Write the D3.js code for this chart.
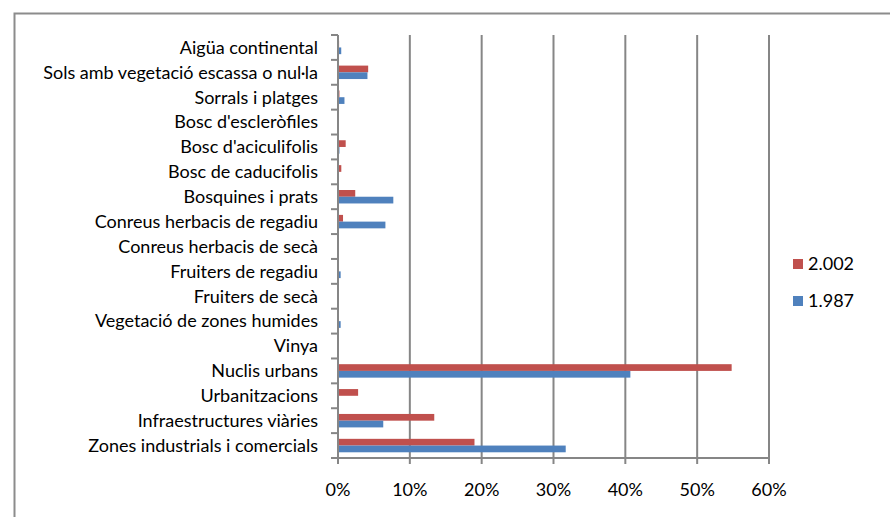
<!DOCTYPE html>
<html>
<head>
<meta charset="utf-8">
<script src="https://cdn.jsdelivr.net/npm/d3@7"></script>
<style>
body { margin: 0; background: #fff; }
svg { display: block; font-family: Lato, "Open Sans", sans-serif; }
</style>
</head>
<body>
<div id="chart"></div>
<script>
// categories, top to bottom as drawn
var categories = [
  "Aigüa continental",
  "Sols amb vegetació escassa o nul·la",
  "Sorrals i platges",
  "Bosc d'escleròfiles",
  "Bosc d'aciculifolis",
  "Bosc de caducifolis",
  "Bosquines i prats",
  "Conreus herbacis de regadiu",
  "Conreus herbacis de secà",
  "Fruiters de regadiu",
  "Fruiters de secà",
  "Vegetació de zones humides",
  "Vinya",
  "Nuclis urbans",
  "Urbanitzacions",
  "Infraestructures viàries",
  "Zones industrials i comercials"
];
var series = ["2.002", "1.987"];
var values2002 = [0.0015, 0.042, 0.002, 0, 0.0107, 0.0046, 0.024, 0.007, 0.001, 0, 0, 0, 0, 0.548, 0.028, 0.134, 0.19];
var values1987 = [0.0045, 0.041, 0.009, 0, 0.002, 0, 0.077, 0.066, 0.001, 0.0037, 0, 0.0037, 0, 0.407, 0, 0.063, 0.317];
var xTicks = [0, 0.1, 0.2, 0.3, 0.4, 0.5, 0.6];
var colors = { "2.002": "#C0504D", "1.987": "#4F81BD" };

var width = 890, height = 517;
var fontSize = 18;
var svg = d3.select("#chart").append("svg")
  .attr("width", width)
  .attr("height", height);

// outer chart border (runs off right/bottom edges)
svg.append("rect")
  .attr("x", 14.5).attr("y", 13.5)
  .attr("width", 900).attr("height", 520)
  .attr("fill", "none")
  .attr("stroke", "#8c8c8c")
  .attr("stroke-width", 2);

var plotL = 338, plotR = 769, plotT = 35, plotB = 458;

var x = d3.scaleLinear().domain([0, 0.6]).range([plotL, plotR]);
var y = d3.scaleBand().domain(categories).range([plotT, plotB]).padding(0);
var ySub = d3.scaleBand().domain(series).range([0, y.bandwidth()]).paddingInner(0).paddingOuter(0.85);

var rows = categories.map(function(c, i) {
  return { cat: c, vals: [{ s: "2.002", v: values2002[i] }, { s: "1.987", v: values1987[i] }] };
});

// vertical gridlines
svg.append("g").selectAll("line")
  .data(xTicks.slice(1))
  .enter().append("line")
  .attr("x1", d => x(d)).attr("x2", d => x(d))
  .attr("y1", plotT).attr("y2", plotB)
  .attr("stroke", "#868686")
  .attr("stroke-width", 2);

// bars
var g = svg.append("g").selectAll("g")
  .data(rows)
  .enter().append("g")
  .attr("transform", d => "translate(0," + y(d.cat) + ")");

g.selectAll("rect")
  .data(d => d.vals)
  .enter().append("rect")
  .attr("x", x(0))
  .attr("y", d => ySub(d.s))
  .attr("width", d => x(d.v) - x(0))
  .attr("height", ySub.bandwidth())
  .attr("fill", d => colors[d.s]);

// y axis
var yAxis = svg.append("g")
  .attr("transform", "translate(" + plotL + ",0)");
yAxis.append("line")
  .attr("x1", 0).attr("x2", 0).attr("y1", plotT).attr("y2", plotB)
  .attr("stroke", "#868686").attr("stroke-width", 2);
yAxis.selectAll(".tk")
  .data(d3.range(categories.length + 1))
  .enter().append("line")
  .attr("x1", -7).attr("x2", 0)
  .attr("y1", i => plotT + i * y.step()).attr("y2", i => plotT + i * y.step())
  .attr("stroke", "#868686").attr("stroke-width", 2);
yAxis.selectAll("text")
  .data(categories)
  .enter().append("text")
  .attr("x", -20)
  .attr("y", d => y(d) + y.bandwidth() / 2)
  .attr("dy", "0.35em")
  .attr("text-anchor", "end")
  .attr("font-size", fontSize)
  .attr("fill", "#000")
  .text(d => d);

// x axis
var xAxis = svg.append("g");
xAxis.append("line")
  .attr("x1", plotL).attr("x2", plotR).attr("y1", plotB).attr("y2", plotB)
  .attr("stroke", "#868686").attr("stroke-width", 2);
xAxis.selectAll(".tk")
  .data(xTicks)
  .enter().append("line")
  .attr("x1", d => x(d)).attr("x2", d => x(d))
  .attr("y1", plotB).attr("y2", plotB + 6)
  .attr("stroke", "#868686").attr("stroke-width", 2);
xAxis.selectAll("text")
  .data(xTicks)
  .enter().append("text")
  .attr("x", d => x(d))
  .attr("y", 496)
  .attr("text-anchor", "middle")
  .attr("font-size", fontSize)
  .text(d => d3.format(".0%")(d));

// legend
var legend = svg.append("g").selectAll("g")
  .data(series)
  .enter().append("g")
  .attr("transform", (d, i) => "translate(793," + (259 + i * 37) + ")");
legend.append("rect")
  .attr("width", 10).attr("height", 10)
  .attr("fill", d => colors[d]);
legend.append("text")
  .attr("x", 15).attr("y", 5)
  .attr("dy", "0.35em")
  .attr("font-size", fontSize)
  .text(d => d);
</script>
</body>
</html>
